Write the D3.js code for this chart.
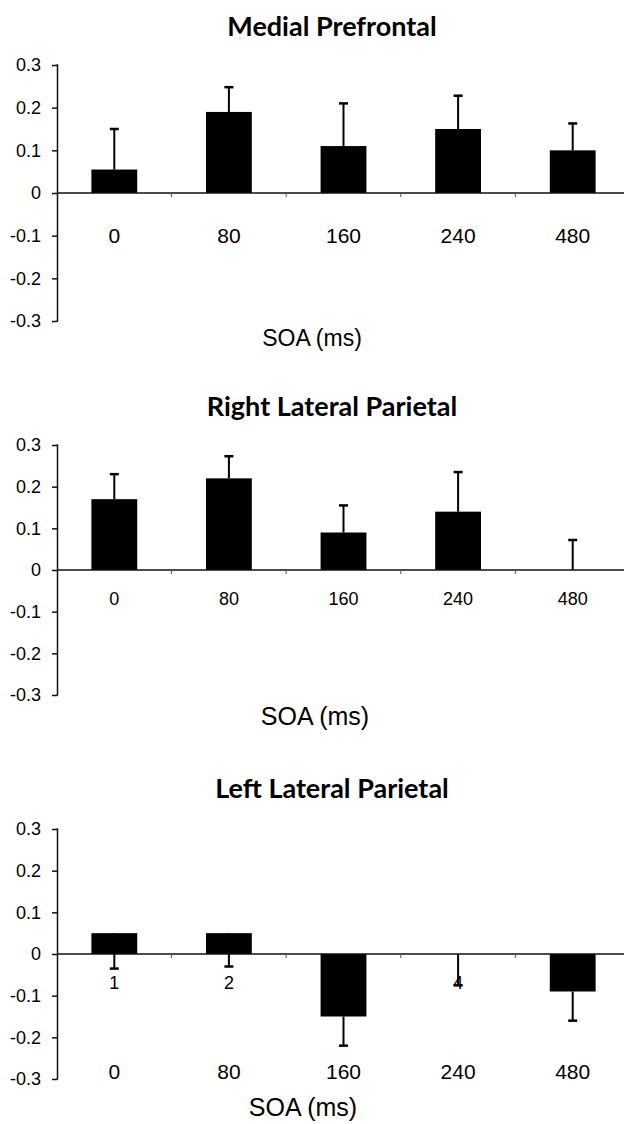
<!DOCTYPE html>
<html>
<head>
<meta charset="utf-8">
<script src="https://cdn.jsdelivr.net/npm/d3@7"></script>
<style>
  body { margin: 0; background: #fff; }
  svg { display: block; }
  text.sans { font-family: "Liberation Sans", Arial, Helvetica, sans-serif; }
</style>
</head>
<body>
<svg id="chart"></svg>
<script>
// categories on the x axis (SOA in ms)
let soaLabels = ["0", "80", "160", "240", "480"];
let yTicks = [0.3, 0.2, 0.1, 0, -0.1, -0.2, -0.3];
let panelTitles = ["Medial Prefrontal", "Right Lateral Parietal", "Left Lateral Parietal"];
let xTitle = "SOA (ms)";

// bar heights and where each error bar ends
let medialValues = [0.055, 0.19, 0.11, 0.15, 0.10];
let medialErrEnd = [0.15, 0.248, 0.21, 0.228, 0.163];

let rightValues = [0.17, 0.22, 0.09, 0.14, 0];
let rightErrEnd = [0.23, 0.273, 0.155, 0.235, 0.072];

let leftValues = [0.05, 0.05, -0.15, 0, -0.09];
let leftErrEnd = [-0.035, -0.03, -0.22, -0.075, -0.16];
let leftMarks = ["1", "2", "", "4", ""];

let width = 624, height = 1124;
let container = d3.select("#chart").attr("width", width).attr("height", height);

let axisLeftX = 57;

function drawPanel(p) {
  let g = container.append("g");

  let xScale = d3.scaleBand()
    .domain(soaLabels)
    .range([axisLeftX, axisLeftX + 573])
    .paddingInner(0.6)
    .paddingOuter(0.3);
  let step = xScale.step();

  let yScale = d3.scaleLinear()
    .domain([-0.3, 0.3])
    .range([p.yBottom, p.yTop]);

  // title
  g.append("text")
    .attr("x", 332)
    .attr("y", p.titleY)
    .attr("text-anchor", "middle")
    .attr("dominant-baseline", "central")
    .style("font-family", "Lato, 'Open Sans', sans-serif")
    .style("font-weight", "bold")
    .style("font-size", p.titleSize + "px")
    .text(p.title);

  // y axis, hyphen minus like the original
  let yAxis = g.append("g")
    .attr("transform", `translate(${axisLeftX},0)`)
    .attr("font-family", null)
    .attr("font-size", null)
    .call(d3.axisLeft(yScale).tickValues(yTicks).tickSize(5).tickPadding(11)
      .tickFormat(d => d === 0 ? "0" : d3.format(".1f")(d).replace("\u2212", "-")));
  yAxis.attr("font-family", null).attr("font-size", null);
  yAxis.select(".domain").attr("d", `M-0.5,${yScale(0.3)}H0.5V${yScale(-0.3)}H-0.5`)
    .attr("stroke", "#111").attr("stroke-width", 1.5);
  yAxis.selectAll(".tick line").attr("stroke", "#111").attr("stroke-width", 1.5);
  yAxis.selectAll(".tick text")
    .attr("class", "sans")
    .style("font-size", "18px")
    .attr("fill", "#000");

  // error bars (drawn first, bars cover the part inside)
  let errs = g.selectAll(".err").data(p.values.map((v, i) => ({ v, e: p.errEnd[i], c: soaLabels[i] })))
    .enter().append("g");
  errs.append("line")
    .attr("x1", d => xScale(d.c) + xScale.bandwidth() / 2)
    .attr("x2", d => xScale(d.c) + xScale.bandwidth() / 2)
    .attr("y1", d => yScale(d.v))
    .attr("y2", d => yScale(d.e))
    .attr("stroke", "#000").attr("stroke-width", 2);
  errs.append("line")
    .attr("x1", d => xScale(d.c) + xScale.bandwidth() / 2 - 4.5)
    .attr("x2", d => xScale(d.c) + xScale.bandwidth() / 2 + 4.5)
    .attr("y1", d => yScale(d.e))
    .attr("y2", d => yScale(d.e))
    .attr("stroke", "#000").attr("stroke-width", 2.5);

  // bars
  g.selectAll(".bar").data(p.values.map((v, i) => ({ v, c: soaLabels[i] })))
    .enter().append("rect")
    .attr("x", d => xScale(d.c))
    .attr("width", xScale.bandwidth())
    .attr("y", d => Math.min(yScale(d.v), yScale(0)))
    .attr("height", d => Math.abs(yScale(d.v) - yScale(0)))
    .attr("fill", "#000");

  // x axis line at zero with small ticks at band boundaries
  let y0 = yScale(0);
  g.append("line")
    .attr("x1", axisLeftX).attr("x2", width)
    .attr("y1", y0).attr("y2", y0)
    .attr("stroke", "#111").attr("stroke-width", 1.5);
  g.selectAll(".xtick").data(soaLabels.slice(1))
    .enter().append("line")
    .attr("x1", d => xScale(d) - step * 0.3)
    .attr("x2", d => xScale(d) - step * 0.3)
    .attr("y1", y0).attr("y2", y0 + 4)
    .attr("stroke", "#555").attr("stroke-width", 1);

  // category labels
  g.selectAll(".xlab").data(soaLabels)
    .enter().append("text")
    .attr("class", "sans")
    .attr("x", d => xScale(d) + xScale.bandwidth() / 2)
    .attr("y", p.labelY)
    .attr("text-anchor", "middle")
    .attr("dominant-baseline", "central")
    .style("font-size", p.labelSize + "px")
    .text(d => d);

  // small marks under some bars
  if (p.marks) {
    g.selectAll(".mark").data(p.marks.map((m, i) => ({ m, c: soaLabels[i] })))
      .enter().append("text")
      .attr("class", "sans")
      .attr("x", d => xScale(d.c) + xScale.bandwidth() / 2)
      .attr("y", p.markY)
      .attr("text-anchor", "middle")
      .attr("dominant-baseline", "central")
      .style("font-size", "18px")
      .text(d => d.m);
  }

  // x axis title
  g.append("text")
    .attr("class", "sans")
    .attr("x", p.xTitleX)
    .attr("y", p.xTitleY)
    .attr("text-anchor", "middle")
    .attr("dominant-baseline", "central")
    .style("font-size", p.xTitleSize + "px")
    .text(xTitle);
}

drawPanel({ title: panelTitles[0], titleY: 25, titleSize: 27, yTop: 65, yBottom: 321,
  values: medialValues, errEnd: medialErrEnd, labelY: 235, labelSize: 21,
  xTitleX: 312, xTitleY: 338, xTitleSize: 23 });

drawPanel({ title: panelTitles[1], titleY: 405, titleSize: 27, yTop: 445, yBottom: 695,
  values: rightValues, errEnd: rightErrEnd, labelY: 599, labelSize: 18,
  xTitleX: 315, xTitleY: 716, xTitleSize: 25 });

drawPanel({ title: panelTitles[2], titleY: 787, titleSize: 27, yTop: 829, yBottom: 1079,
  values: leftValues, errEnd: leftErrEnd, labelY: 1071, labelSize: 21,
  marks: leftMarks, markY: 983,
  xTitleX: 303, xTitleY: 1107, xTitleSize: 25 });
</script>
</body>
</html>
